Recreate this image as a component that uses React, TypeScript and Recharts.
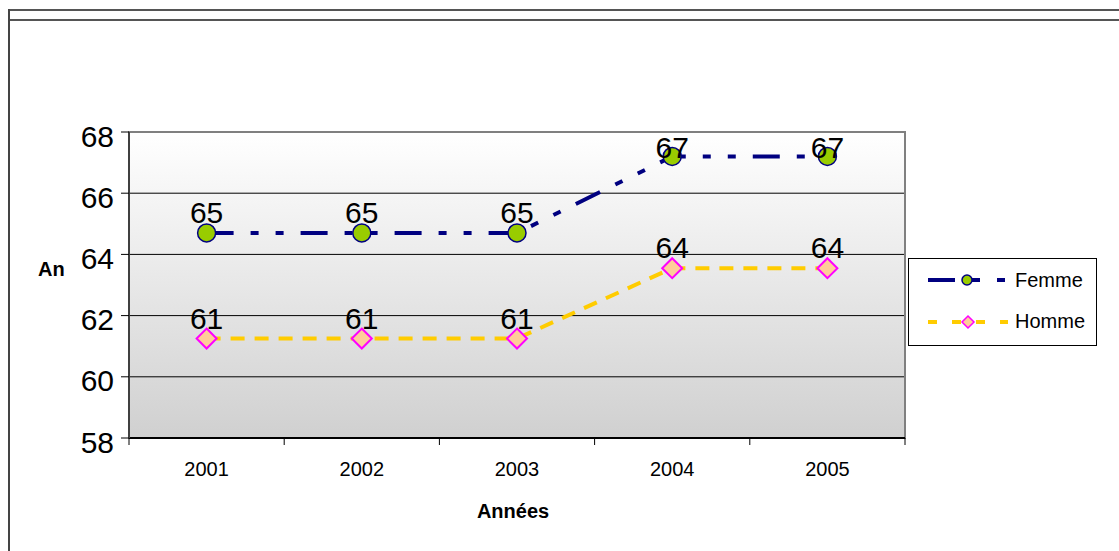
import React from "react";
import {
  ComposedChart, Line, XAxis, YAxis, CartesianGrid,
  Legend, LabelList, ReferenceArea
} from "recharts";

const FONT = "'Liberation Sans', Arial, sans-serif";

// values
const years = ["2001", "2002", "2003", "2004", "2005"];
const femme = [64.7, 64.7, 64.7, 67.2, 67.2];
const homme = [61.25, 61.25, 61.25, 63.55, 63.55];
const yTicks = [58, 60, 62, 64, 66, 68];

const data = years.map((year, i) => ({ year, femme: femme[i], homme: homme[i] }));

const PLOT_TOP = 132;
const TICK_GAP = 24; // tickSize + tickMargin of the x axis

function ValueLabel(props: any) {
  const vb = props.viewBox || {};
  const x = props.x ?? vb.x;
  const y = props.y ?? vb.y;
  if (x == null || y == null) return null;
  // keep the label inside the plot area like excel does
  const base = Math.max(y - 10, PLOT_TOP + 26);
  return (
    <text x={x} y={base} textAnchor="middle" fontSize={30} fill="#000" fontFamily={FONT}>
      {Math.round(props.value)}
    </text>
  );
}

// category label + tick marks on the band edges (excel style)
function YearTick(props: any) {
  const { x, y, payload, index } = props;
  const half = payload?.offset ?? 0;
  const axisY = y - TICK_GAP;
  const isLast = index === years.length - 1;
  return (
    <g>
      <line x1={x - half} x2={x - half} y1={axisY} y2={axisY + 7} stroke="#000" strokeWidth={1} />
      {isLast && <line x1={x + half} x2={x + half} y1={axisY} y2={axisY + 7} stroke="#000" strokeWidth={1} />}
      <text x={x} y={y} dy={14} textAnchor="middle" fontSize={20} fill="#000" fontFamily={FONT}>
        {payload.value}
      </text>
    </g>
  );
}

function Diamond(props: any) {
  const { cx, cy } = props;
  if (cx == null || cy == null) return null;
  const r = 10;
  return (
    <polygon
      points={`${cx},${cy - r} ${cx + r},${cy} ${cx},${cy + r} ${cx - r},${cy}`}
      fill="#FFCC99" stroke="#FF00FF" strokeWidth={2}
    />
  );
}

function LegendBox() {
  return (
    <div style={{ width: 189, height: 88, boxSizing: "border-box", border: "1px solid #000", background: "#fff" }}>
      <svg width={187} height={86} style={{ display: "block" }}>
        <line x1={19} y1={21} x2={97} y2={21} stroke="#000080" strokeWidth={4} strokeDasharray="27 17 8 17 8 17" />
        <circle cx={58} cy={21} r={5} fill="#99CC00" stroke="#000080" strokeWidth={1.5} />
        <text x={106} y={28} fontSize={20} fontFamily={FONT} fill="#000">Femme</text>
        <line x1={19} y1={63} x2={99} y2={63} stroke="#FFCC00" strokeWidth={4} strokeDasharray="9 15" />
        <polygon points="59,57 65,63 59,69 53,63" fill="#FFCC99" stroke="#FF00FF" strokeWidth={1.5} />
        <text x={106} y={69} fontSize={20} fontFamily={FONT} fill="#000">Homme</text>
      </svg>
    </div>
  );
}

export default function App() {
  return (
    <div style={{ position: "absolute", left: 0, top: 0, width: 1119, height: 551, background: "#fff", fontFamily: FONT }}>
      {/* frame of the original sheet */}
      <div style={{ position: "absolute", left: 8, top: 9, right: 0, height: 0, borderTop: "2px solid #555" }} />
      <div style={{ position: "absolute", left: 8, top: 19, right: 0, height: 0, borderTop: "2px solid #555" }} />
      <div style={{ position: "absolute", left: 8, top: 9, bottom: 0, width: 0, borderLeft: "2px solid #444" }} />

      <div style={{ position: "absolute", left: 0, top: 0 }}>
        <ComposedChart width={1119} height={551} data={data} margin={{ top: 132, right: 214, bottom: 0, left: 0 }}>
          <defs>
            <linearGradient id="plotBg" x1="0" y1="0" x2="0" y2="1">
              <stop offset="0%" stopColor="#ffffff" />
              <stop offset="100%" stopColor="#d0d0d0" />
            </linearGradient>
          </defs>
          <CartesianGrid vertical={false} stroke="#000" strokeWidth={1} fill="url(#plotBg)" fillOpacity={1} />

          <XAxis
            dataKey="year" scale="band" height={113} tickLine={false}
            axisLine={{ stroke: "#000", strokeWidth: 2 }}
            tickSize={6} tickMargin={18}
            tick={<YearTick />}
            label={(p: any) => {
              const vb = p.viewBox || { x: 129, y: 438, width: 776 };
              return (
                <text x={vb.x + vb.width / 2 - 4} y={vb.y + 80} textAnchor="middle" fontSize={20} fontWeight="bold" fontFamily={FONT} fill="#000">
                  Années
                </text>
              );
            }}
          />
          <YAxis
            width={129} domain={[58, 68]} ticks={yTicks} interval={0}
            axisLine={{ stroke: "#404040", strokeWidth: 2 }}
            tickLine={{ stroke: "#000", strokeWidth: 1 }} tickSize={8} tickMargin={7}
            tick={{ fontSize: 30, fill: "#000", fontFamily: FONT, dy: 4 }}
            label={(p: any) => {
              const vb = p.viewBox || { x: 0, y: 132, height: 306 };
              return (
                <text x={vb.x + 38} y={vb.y + vb.height / 2 - 9} fontSize={20} fontWeight="bold" fontFamily={FONT} fill="#000">
                  An
                </text>
              );
            }}
          />

          {/* plot area border */}
          <ReferenceArea x1={years[0]} x2={years[years.length - 1]} y1={58} y2={68}
            fill="none" stroke="#808080" strokeWidth={2} ifOverflow="visible" />

          <Legend layout="horizontal" verticalAlign="middle" content={() => <LegendBox />}
            wrapperStyle={{ position: "absolute", left: 908, top: 258, width: 189, height: 88 }} />

          <Line
            dataKey="femme" name="Femme" type="linear" stroke="#000080" strokeWidth={4}
            strokeDasharray="27 17 8 17 8 17" isAnimationActive={false}
            dot={{ r: 9, fill: "#99CC00", stroke: "#000080", strokeWidth: 1.5, strokeDasharray: "none" }}
          >
            <LabelList dataKey="femme" content={ValueLabel} />
          </Line>
          <Line
            dataKey="homme" name="Homme" type="linear" stroke="#FFCC00" strokeWidth={4}
            strokeDasharray="14 10" isAnimationActive={false}
            dot={<Diamond />}
          >
            <LabelList dataKey="homme" content={ValueLabel} />
          </Line>
        </ComposedChart>
      </div>
    </div>
  );
}
